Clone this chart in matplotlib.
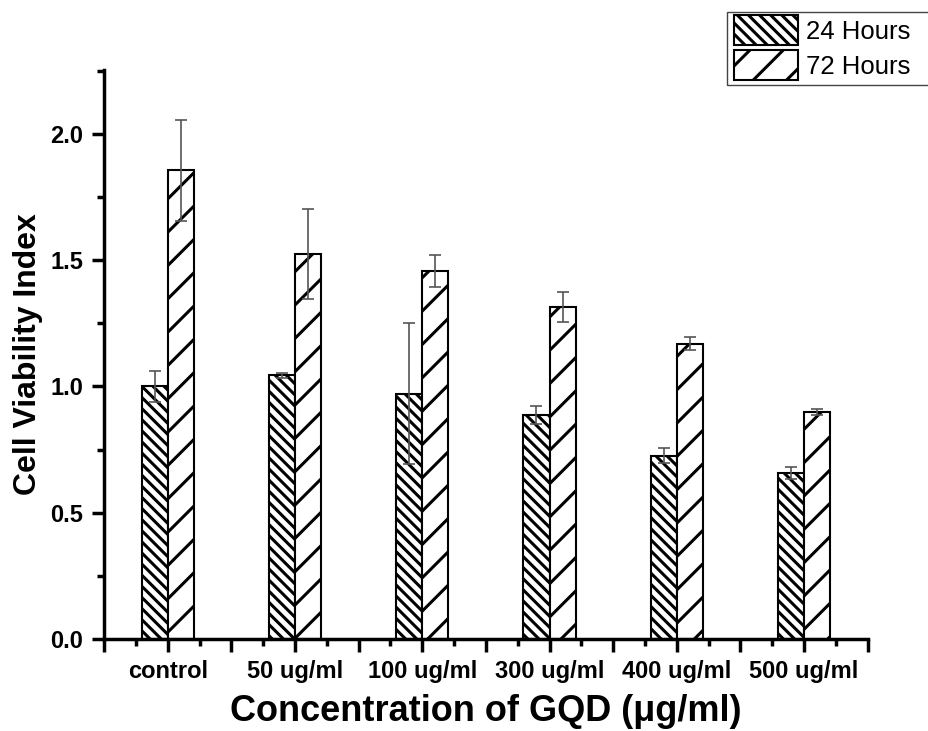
import numpy as np
import matplotlib
matplotlib.use("Agg")
import matplotlib.pyplot as plt
from matplotlib.patches import Rectangle
from matplotlib.ticker import MultipleLocator, FixedLocator, FormatStrFormatter

plt.rcParams['font.family'] = ['Liberation Sans', 'DejaVu Sans']
plt.rcParams['hatch.linewidth'] = 2.2

# Data

categories = ["control", "50 ug/ml", "100 ug/ml", "300 ug/ml", "400 ug/ml", "500 ug/ml"]
h24 = [1.00, 1.045, 0.972, 0.887, 0.725, 0.657]
h24_err = [0.06, 0.01, 0.28, 0.036, 0.03, 0.022]
h72 = [1.857, 1.525, 1.458, 1.316, 1.169, 0.900]
h72_err = [0.20, 0.18, 0.063, 0.06, 0.025, 0.012]

x = np.arange(1, len(categories) + 1)
w = 0.205

fig = plt.figure(figsize=(9.29, 7.31), dpi=100)
ax = fig.add_axes([0.112, 0.126, 0.822, 0.778])

b1 = ax.bar(x - w/2, h24, w, color='white', edgecolor='black', linewidth=1.5,
            hatch='\\\\\\', label='24 Hours')
b2 = ax.bar(x + w/2, h72, w, color='white', edgecolor='black', linewidth=1.5,
            hatch='/', label='72 Hours')
ax.errorbar(x - w/2, h24, yerr=h24_err, fmt='none', ecolor='#555555',
            elinewidth=1.2, capsize=4.5, capthick=1.2, zorder=3)
ax.errorbar(x + w/2, h72, yerr=h72_err, fmt='none', ecolor='#555555',
            elinewidth=1.2, capsize=4.5, capthick=1.2, zorder=3)

ax.set_xlim(0.5, 6.5)
ax.set_ylim(0, 2.253)

# major ticks every half unit, labels only under the groups
ticks = np.arange(0.5, 6.51, 0.5)
ax.xaxis.set_major_locator(FixedLocator(ticks))
ax.xaxis.set_minor_locator(MultipleLocator(0.25))
labs = []
for t in ticks:
    if abs(t - round(t)) < 1e-6 and 1 <= round(t) <= 6:
        labs.append(categories[int(round(t)) - 1])
    else:
        labs.append("")
ax.set_xticklabels(labs)

ax.yaxis.set_major_locator(MultipleLocator(0.5))
ax.yaxis.set_minor_locator(MultipleLocator(0.25))
ax.yaxis.set_major_formatter(FormatStrFormatter('%.1f'))

for s in ['top', 'right']:
    ax.spines[s].set_visible(False)
for s in ['left', 'bottom']:
    ax.spines[s].set_linewidth(2.5)

ax.tick_params(which='major', direction='out', length=9, width=2.5, labelsize=17, pad=6)
ax.tick_params(which='minor', direction='out', length=5, width=2.5)
for lbl in ax.get_xticklabels() + ax.get_yticklabels():
    lbl.set_fontweight('bold')

ax.set_ylabel('Cell Viability Index', fontsize=23, fontweight='bold', labelpad=5)
ax.set_xlabel('Concentration of GQD (\u03bcg/ml)', fontsize=26, fontweight='bold', labelpad=8)

# legend, its frame runs off the right edge like in the original
leg = fig.legend(handles=[b1, b2], loc='upper left', bbox_to_anchor=(0.790, 0.979),
                 fontsize=18.5, frameon=False,
                 handlelength=2.5, handleheight=1.4, handletextpad=0.3,
                 borderpad=0.0, labelspacing=0.2, borderaxespad=0.0)
fig.patches.append(Rectangle((727/929, 1 - 85/731), 0.3, 73/731, transform=fig.transFigure,
                             fill=False, edgecolor='#444444', linewidth=1.0))

fig.savefig('out.png', dpi=100)
